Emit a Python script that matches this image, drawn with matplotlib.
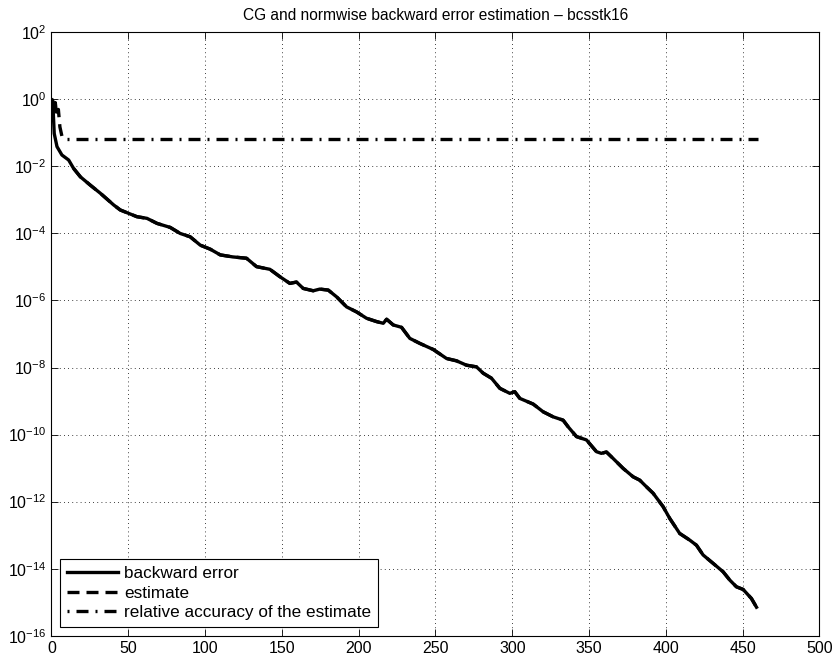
import matplotlib
matplotlib.use("Agg")
import matplotlib.pyplot as plt
import numpy as np

# ---- data ----
iters = [0, 0.8, 1.8, 3.6, 6.8, 11.2, 14.4, 18.8, 25.3, 31.8, 40.5, 44.8, 55.6, 62.2,
         68.7, 77.3, 83.8, 90.3, 96.9, 103.4, 109.9, 118, 127, 133.5, 142.2, 148.7,
         155.2, 159.5, 163.9, 170.4, 174.7, 180.2, 185.6, 192.1, 198.6, 205.1, 211.7,
         216, 218.2, 222.5, 227.9, 233.3, 239.8, 248.5, 257.2, 263.7, 270.2, 276.7,
         281.1, 286.5, 291.9, 298.4, 301.6, 304.9, 313.6, 320.1, 326.6, 333.1, 336.4,
         341.8, 348.3, 354.8, 358, 361.3, 365.6, 372.2, 378.7, 383, 387.4, 391.7, 398.2,
         402.5, 409, 415.6, 419.9, 424.2, 430.7, 437.2, 441.6, 445.9, 450.3, 455.7, 459]
log_bwerr = [0.0, -0.02, -1.02, -1.41, -1.66, -1.81, -2.06, -2.31, -2.56, -2.80, -3.15,
             -3.30, -3.50, -3.55, -3.70, -3.82, -4.00, -4.10, -4.35, -4.47, -4.64, -4.70,
             -4.74, -4.99, -5.07, -5.29, -5.49, -5.45, -5.64, -5.71, -5.66, -5.69, -5.89,
             -6.19, -6.34, -6.53, -6.63, -6.68, -6.56, -6.73, -6.80, -7.13, -7.28, -7.46,
             -7.73, -7.80, -7.93, -7.98, -8.17, -8.32, -8.62, -8.77, -8.72, -8.92, -9.09,
             -9.32, -9.47, -9.57, -9.77, -10.06, -10.16, -10.51, -10.56, -10.52, -10.71,
             -11.01, -11.26, -11.36, -11.56, -11.75, -12.15, -12.50, -12.95, -13.15,
             -13.30, -13.59, -13.84, -14.09, -14.34, -14.54, -14.62, -14.89, -15.15]
bwerr = [10.0 ** v for v in log_bwerr]

# estimate: differs from backward error only in the first iterations
est_iters = [0.5, 1.5, 2.5, 3.5, 4.5, 5.5, 6.8]
est_vals = [1.0, 0.45, 0.8, 0.3, 0.5, 0.15, 0.08]

acc_iters = [10, 460]
acc_vals = [0.064, 0.064]

title = "CG and normwise backward error estimation – bcsstk16"
labels = ["backward error", "estimate", "relative accuracy of the estimate"]

plt.rcParams['font.family'] = ['Liberation Sans', 'DejaVu Sans']
plt.rcParams['mathtext.fontset'] = 'custom'
plt.rcParams['mathtext.rm'] = 'Liberation Sans'
plt.rcParams['mathtext.it'] = 'Liberation Sans:italic'
plt.rcParams['mathtext.bf'] = 'Liberation Sans:bold'

fig = plt.figure(figsize=(8.34, 6.62), dpi=100)
ax = fig.add_axes([0.0617, 0.0397, 0.9209, 0.9115])

DASH = (0, (3.6, 2.1))
DASHDOT = (0, (0.6, 2.1, 3.6, 2.1))

l1, = ax.semilogy(iters, bwerr, color='black', lw=2.4, solid_joinstyle='round')
l2, = ax.semilogy(est_iters, est_vals, color='black', lw=2.4, ls=DASH)
ax.semilogy(iters[6:], bwerr[6:], color='black', lw=2.4, ls=DASH)
l3, = ax.semilogy(acc_iters, acc_vals, color='black', lw=2.4, ls=DASHDOT)

ax.set_xlim(0, 500)
ax.set_ylim(1e-16, 1e2)
ax.set_xticks(np.arange(0, 501, 50))
yt = [10.0 ** e for e in range(-16, 3, 2)]
ax.set_yticks(yt)
ax.set_yticklabels([r'$10^{%d}$' % e for e in range(-16, 3, 2)])
ax.minorticks_off()
ax.tick_params(direction='in', top=True, right=True, labelsize=11.5, length=5, width=0.6)
ax.grid(True, color='black', ls=(0, (1, 4)), lw=0.6)
for s in ax.spines.values():
    s.set_linewidth(0.8)
ax.set_title(title, fontsize=11.2, pad=9)

leg = ax.legend([l1, l2, l3], labels, loc='lower left', fontsize=12.3,
                handlelength=3.0, frameon=True, fancybox=False, borderaxespad=0.5,
                edgecolor='black', framealpha=1, labelspacing=0.28, borderpad=0.4,
                handletextpad=0.37)
leg.get_frame().set_linewidth(0.8)

fig.savefig("out.png", dpi=100)
